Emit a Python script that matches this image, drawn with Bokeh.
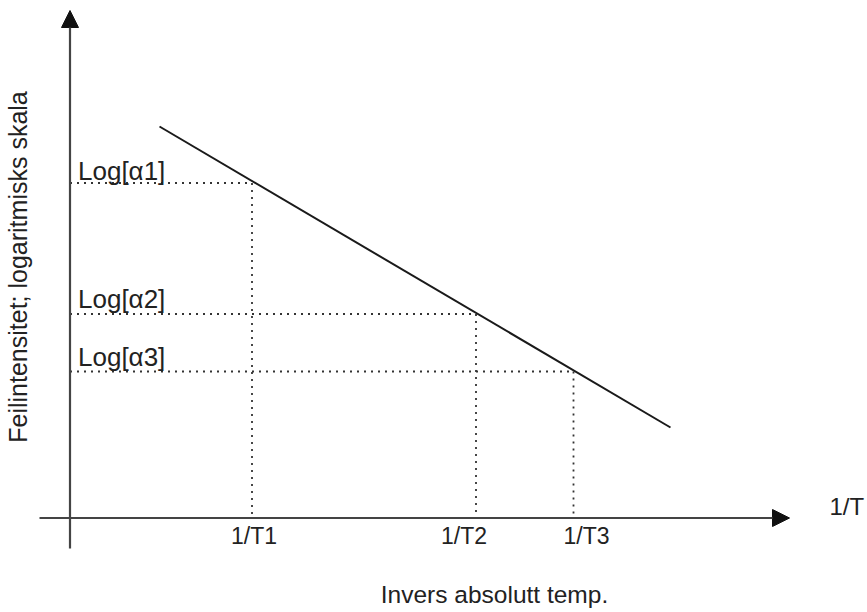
from bokeh.plotting import figure
from bokeh.models import Range1d, Arrow, NormalHead, ColumnDataSource
from bokeh.core.properties import value
from bokeh.embed import file_html
from bokeh.resources import INLINE

# ---- data (schematic units: x = 1/T, y = log(alpha)) ----
tick_labels = ["1/T1", "1/T2", "1/T3"]
alpha_labels = ["Log[\u03b11]", "Log[\u03b12]", "Log[\u03b13]"]
inv_T = [1.82, 4.06, 5.035]
log_alpha = [3.35, 2.04, 1.465]
line_x = [0.895, 6.005]
line_y = [3.915, 0.905]

x_axis_extent = [-0.305, 7.195]
y_axis_extent = [-0.305, 5.075]

x_title = "Invers absolutt temp."
y_title = "Feilintensitet; logaritmisks skala"
x_end_label = "1/T"

FONT = value("Liberation Sans")
TXT = "#222222"

p = figure(width=867, height=612, output_backend="svg", toolbar_location=None,
           x_range=Range1d(-0.695, 7.975), y_range=Range1d(-0.945, 5.175),
           x_axis_location=None, y_axis_location=None, min_border=0,
           outline_line_color=None)
p.grid.visible = False
p.background_fill_color = "white"
p.border_fill_color = "white"

# dotted guide lines
for xv, yv in zip(inv_T, log_alpha):
    p.line([0, xv], [yv, yv], line_color="#333333", line_width=1.8, line_dash="2 5")
    p.line([xv, xv], [yv, 0], line_color="#333333", line_width=1.8, line_dash="2 5")

# main line
p.line(line_x, line_y, line_color="#1a1a1a", line_width=2)

# axes with arrow heads
p.add_layout(Arrow(end=NormalHead(size=17, fill_color="#111111", line_color="#111111", line_width=1),
                   x_start=x_axis_extent[0], y_start=0, x_end=x_axis_extent[1], y_end=0,
                   line_color="#444444", line_width=2.2))
p.add_layout(Arrow(end=NormalHead(size=17, fill_color="#111111", line_color="#111111", line_width=1),
                   x_start=0, y_start=y_axis_extent[0], x_end=0, y_end=y_axis_extent[1],
                   line_color="#444444", line_width=2.2))

# labels of levels
src_a = ColumnDataSource(dict(x=[0] * 3, y=log_alpha, t=alpha_labels, dy=[-12, -15, -15]))
p.text(x="x", y="y", text="t", source=src_a, text_font=FONT, text_font_size="26px",
       text_color=TXT, text_align="left", text_baseline="alphabetic",
       x_offset=8, y_offset="dy")

# tick labels (small horizontal nudges as in the original drawing)
src_t = ColumnDataSource(dict(x=inv_T, y=[0] * 3, t=tick_labels, dx=[2, -12, 13]))
p.text(x="x", y="y", text="t", source=src_t, text_font=FONT, text_font_size="23px",
       text_color=TXT, text_align="center", text_baseline="middle",
       x_offset="dx", y_offset=18)

# axis end label
p.text(x=[x_axis_extent[1]], y=[0], text=[x_end_label], text_font=FONT, text_font_size="24px",
       text_color=TXT, text_align="left", text_baseline="middle", x_offset=40, y_offset=-12)

# axis titles
p.text(x=[4.245], y=[0], text=[x_title], text_font=FONT, text_font_size="24.5px",
       text_color=TXT, text_align="center", text_baseline="middle", y_offset=76)
p.text(x=[0], y=[2.51], text=[y_title], text_font=FONT, text_font_size="25px",
       text_color=TXT, text_align="center", text_baseline="middle", angle=1.5708,
       x_offset=-52)

open("out.html", "w").write(file_html(p, INLINE))
